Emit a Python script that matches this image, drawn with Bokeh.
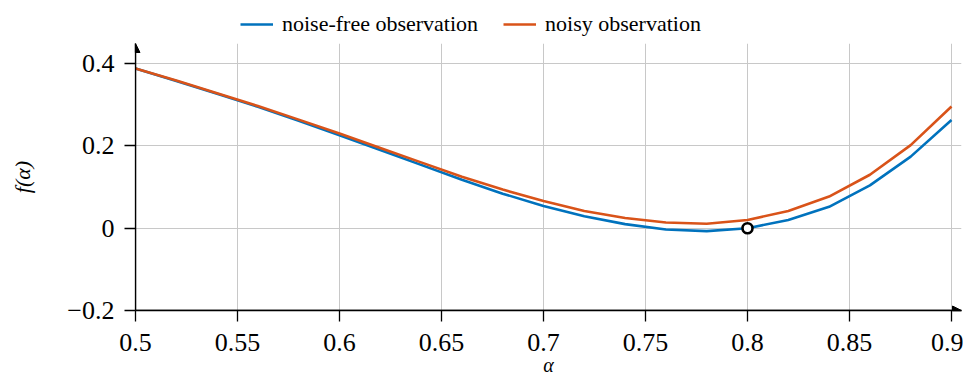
from bokeh.plotting import figure
from bokeh.layouts import column
from bokeh.models import (Range1d, FixedTicker, Legend, LegendItem, Arrow,
                          NormalHead)
from bokeh.embed import file_html
from bokeh.resources import INLINE

# ---- data -------------------------------------------------------------
alpha = [0.50, 0.52, 0.54, 0.56, 0.58, 0.60, 0.62, 0.64, 0.66, 0.68, 0.70,
         0.72, 0.74, 0.76, 0.78, 0.80, 0.82, 0.84, 0.86, 0.88, 0.90]
noise_free = [0.388, 0.358, 0.327, 0.295, 0.261, 0.226, 0.190, 0.154, 0.118,
              0.084, 0.054, 0.029, 0.010, -0.003, -0.007, 0.000, 0.020,
              0.052, 0.104, 0.174, 0.263]
noisy = [0.388, 0.359, 0.328, 0.297, 0.264, 0.230, 0.195, 0.160, 0.125,
         0.094, 0.066, 0.042, 0.025, 0.014, 0.011, 0.020, 0.042, 0.077,
         0.130, 0.202, 0.296]
opt_alpha = [0.8]
opt_value = [0.0]

x_ticks = [0.5, 0.55, 0.6, 0.65, 0.7, 0.75, 0.8, 0.85, 0.9]
x_tick_labels = ["0.5", "0.55", "0.6", "0.65", "0.7", "0.75", "0.8", "0.85", "0.9"]
y_ticks = [-0.2, 0.0, 0.2, 0.4]
y_tick_labels = ["\u22120.2", "0", "0.2", "0.4"]

series_names = ["noise-free observation", "noisy observation"]
series_colors = ["#0072BD", "#D95319"]

X_START, X_END = 0.5, 0.9049
Y_START, Y_END = -0.2, 0.449

FONT = "Liberation Serif"
LW = 2.6

# ---- main figure --------------------------------------------------------
p = figure(width=963, height=337,
           x_range=Range1d(X_START, X_END), y_range=Range1d(Y_START, Y_END),
           output_backend="svg", toolbar_location=None,
           min_border_left=135, min_border_right=2,
           min_border_top=0, min_border_bottom=70)
p.outline_line_color = None

p.line(alpha, noise_free, line_color=series_colors[0], line_width=LW)
p.line(alpha, noisy, line_color=series_colors[1], line_width=LW)
p.scatter(opt_alpha, opt_value, size=10, marker="circle", fill_color="white",
          line_color="black", line_width=LW)

for ax in (p.xaxis[0], p.yaxis[0]):
    ax.axis_line_color = "black"
    ax.axis_line_width = 1.3
    ax.major_tick_line_color = "black"
    ax.major_tick_line_width = 1.3
    ax.major_tick_in = 0
    ax.major_tick_out = 11
    ax.minor_tick_line_color = None
    ax.major_label_text_font = FONT
    ax.major_label_text_font_size = "26px"
    ax.major_label_text_color = "black"

p.xaxis.ticker = FixedTicker(ticks=x_ticks)
p.xaxis.major_label_overrides = dict(zip(x_ticks, x_tick_labels))
p.xaxis.major_label_standoff = 12
p.xaxis.axis_label = "\u03b1"
p.xaxis.axis_label_text_font = FONT
p.xaxis.axis_label_text_font_style = "italic"
p.xaxis.axis_label_text_font_size = "20px"
p.xaxis.axis_label_text_color = "black"
p.xaxis.axis_label_standoff = 0

p.yaxis.ticker = FixedTicker(ticks=y_ticks)
p.yaxis.major_label_overrides = dict(zip(y_ticks, y_tick_labels))
p.yaxis.major_label_standoff = 10
p.yaxis.axis_label = "f(\u03b1)"
p.yaxis.axis_label_text_font = FONT
p.yaxis.axis_label_text_font_style = "italic"
p.yaxis.axis_label_text_font_size = "22px"
p.yaxis.axis_label_text_color = "black"
p.yaxis.axis_label_standoff = 29

p.xgrid.ticker = FixedTicker(ticks=x_ticks)
p.ygrid.ticker = FixedTicker(ticks=y_ticks)
for g in (p.xgrid[0], p.ygrid[0]):
    g.grid_line_color = "#c8c8c8"
    g.grid_line_width = 1

p.add_layout(Arrow(end=NormalHead(size=9, fill_color="black", line_color="black", line_width=1),
                   x_start=X_START, y_start=Y_START, x_end=X_START, y_end=Y_END,
                   line_color="black", line_width=1.3))
p.add_layout(Arrow(end=NormalHead(size=9, fill_color="black", line_color="black", line_width=1),
                   x_start=X_START, y_start=Y_START, x_end=X_END, y_end=Y_START,
                   line_color="black", line_width=1.3))

# ---- legend strip ---------------------------------------------------------
lg = figure(width=963, height=43, output_backend="svg", toolbar_location=None,
            x_axis_type=None, y_axis_type=None,
            min_border_left=0, min_border_right=0,
            min_border_top=0, min_border_bottom=0)
lg.outline_line_color = None
lg.xgrid.visible = False
lg.ygrid.visible = False
k1 = lg.line(alpha[:1], noise_free[:1], line_color=series_colors[0], line_width=LW)
k2 = lg.line(alpha[:1], noisy[:1], line_color=series_colors[1], line_width=LW)
legend = Legend(items=[LegendItem(label=series_names[0], renderers=[k1]),
                       LegendItem(label=series_names[1], renderers=[k2])],
                orientation="horizontal", location=(105, 6),
                border_line_color=None, background_fill_alpha=0,
                padding=0, margin=0, spacing=25, label_standoff=9,
                glyph_width=33, glyph_height=24, label_height=24,
                label_text_font=FONT, label_text_font_size="22px",
                label_text_color="black")
lg.add_layout(legend)

open("out.html", "w").write(file_html(column(lg, p), INLINE))
